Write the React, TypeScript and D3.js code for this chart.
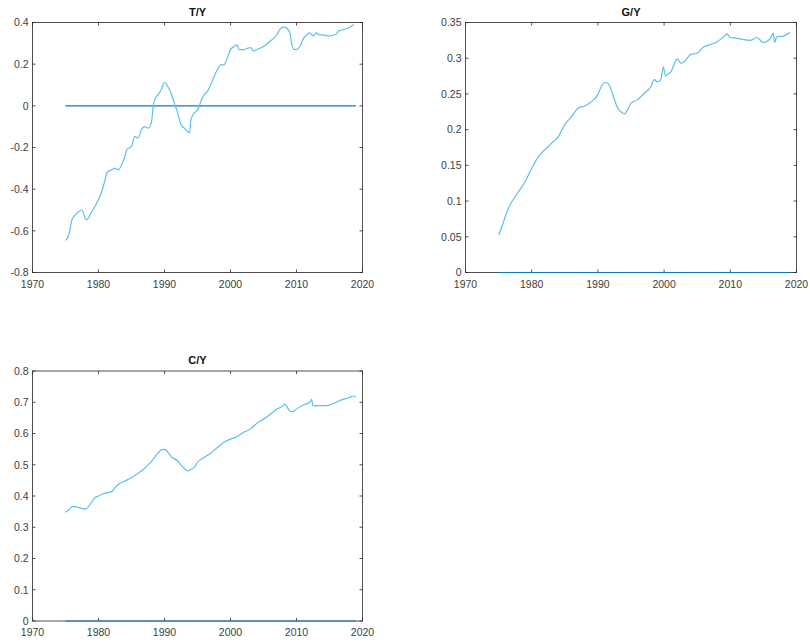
import React from "react";
import * as d3 from "d3";

// ---- Data ----
const tyYears = [1975, 1975.5, 1976, 1976.5, 1977, 1977.5, 1978, 1978.2, 1979, 1980, 1980.5, 1981, 1981.3, 1982, 1982.5, 1983, 1983.5, 1984, 1984.3, 1985, 1985.5, 1986, 1986.5, 1987, 1987.5, 1988, 1988.3, 1988.5, 1989, 1989.5, 1990, 1990.5, 1991, 1991.5, 1992, 1992.5, 1993, 1993.5, 1993.8, 1994, 1994.5, 1995, 1995.5, 1996, 1996.5, 1997, 1997.5, 1998, 1998.5, 1999, 1999.5, 2000, 2000.5, 2001, 2001.3, 2002, 2002.5, 2003, 2003.5, 2004, 2005, 2006, 2007, 2007.5, 2008, 2008.5, 2009, 2009.3, 2009.7, 2010, 2010.5, 2011, 2011.5, 2012, 2012.5, 2013, 2013.5, 2014, 2015, 2016, 2016.5, 2017, 2018, 2018.7];
const tyValues = [-0.646, -0.62, -0.545, -0.523, -0.507, -0.5, -0.54, -0.547, -0.507, -0.45, -0.41, -0.355, -0.32, -0.307, -0.3, -0.307, -0.283, -0.243, -0.21, -0.195, -0.147, -0.155, -0.115, -0.1, -0.107, -0.083, -0.003, 0.03, 0.053, 0.077, 0.112, 0.093, 0.06, 0.013, -0.035, -0.09, -0.107, -0.123, -0.13, -0.067, -0.035, -0.02, 0.02, 0.053, 0.07, 0.1, 0.14, 0.173, 0.197, 0.197, 0.229, 0.27, 0.285, 0.293, 0.27, 0.27, 0.275, 0.28, 0.264, 0.27, 0.285, 0.31, 0.34, 0.368, 0.378, 0.373, 0.35, 0.293, 0.27, 0.27, 0.285, 0.32, 0.34, 0.35, 0.336, 0.35, 0.34, 0.341, 0.336, 0.344, 0.362, 0.365, 0.376, 0.39];

const gyYears = [1975, 1975.5, 1976, 1976.5, 1977, 1978, 1979, 1980, 1981, 1982, 1982.5, 1983, 1984, 1985, 1986, 1987, 1988, 1989, 1990, 1990.5, 1991, 1991.5, 1992, 1992.5, 1993, 1993.5, 1994, 1994.5, 1995, 1996, 1997, 1998, 1998.5, 1999, 1999.5, 1999.9, 2000.2, 2000.5, 2001, 2002, 2002.5, 2003, 2004, 2005, 2006, 2007, 2008, 2009, 2009.5, 2010, 2011, 2012, 2013, 2014, 2015, 2016, 2016.5, 2016.7, 2017, 2018, 2019];
const gyValues = [0.0527, 0.064, 0.078, 0.09, 0.099, 0.113, 0.127, 0.146, 0.162, 0.172, 0.176, 0.181, 0.19, 0.207, 0.218, 0.23, 0.233, 0.239, 0.249, 0.26, 0.266, 0.265, 0.256, 0.242, 0.23, 0.225, 0.222, 0.228, 0.237, 0.242, 0.251, 0.26, 0.27, 0.267, 0.27, 0.288, 0.275, 0.277, 0.281, 0.299, 0.293, 0.295, 0.305, 0.307, 0.316, 0.319, 0.323, 0.33, 0.334, 0.329, 0.328, 0.326, 0.325, 0.329, 0.322, 0.327, 0.335, 0.322, 0.33, 0.331, 0.336];

const cyYears = [1975, 1975.5, 1976, 1976.5, 1977, 1978, 1978.5, 1979, 1979.5, 1980, 1981, 1982, 1982.5, 1983, 1984, 1985, 1986, 1987, 1988, 1989, 1989.5, 1990, 1990.5, 1991, 1992, 1992.5, 1993, 1993.5, 1994, 1994.5, 1995, 1996, 1997, 1998, 1999, 2000, 2001, 2002, 2003, 2004, 2005, 2006, 2007, 2008, 2008.2, 2009, 2009.5, 2010, 2011, 2012, 2012.3, 2012.5, 2013, 2014, 2015, 2016, 2017, 2018, 2018.5, 2019];
const cyValues = [0.348, 0.355, 0.366, 0.366, 0.363, 0.358, 0.366, 0.382, 0.395, 0.4, 0.409, 0.414, 0.427, 0.437, 0.448, 0.459, 0.473, 0.489, 0.51, 0.537, 0.547, 0.549, 0.54, 0.526, 0.512, 0.499, 0.489, 0.48, 0.485, 0.491, 0.508, 0.523, 0.537, 0.555, 0.572, 0.582, 0.59, 0.604, 0.614, 0.633, 0.646, 0.661, 0.678, 0.689, 0.694, 0.672, 0.67, 0.678, 0.691, 0.7, 0.709, 0.688, 0.689, 0.689, 0.691, 0.7, 0.709, 0.715, 0.72, 0.718];

const zeroStart = 1975;
const zeroEnd = 2019;

const xTicks = [1970, 1980, 1990, 2000, 2010, 2020];
const tyTicks = [-0.8, -0.6, -0.4, -0.2, 0, 0.2, 0.4];
const gyTicks = [0, 0.05, 0.1, 0.15, 0.2, 0.25, 0.3, 0.35];
const cyTicks = [0, 0.1, 0.2, 0.3, 0.4, 0.5, 0.6, 0.7, 0.8];

const tyTickLabels = ["-0.8", "-0.6", "-0.4", "-0.2", "0", "0.2", "0.4"];
const gyTickLabels = ["0", "0.05", "0.1", "0.15", "0.2", "0.25", "0.3", "0.35"];
const cyTickLabels = ["0", "0.1", "0.2", "0.3", "0.4", "0.5", "0.6", "0.7", "0.8"];

const SERIES_COLOR = "#5cc0ea";
const ZERO_COLOR = "#0f77bf";
const AXIS_COLOR = "#262626";
const FONT = "'Liberation Sans', Arial, Helvetica, sans-serif";

type PanelProps = {
  x: number;
  y: number;
  w: number;
  h: number;
  title: string;
  years: number[];
  values: number[];
  yDomain: [number, number];
  yTicks: number[];
  yTickLabels: string[];
};

function Panel({ x, y, w, h, title, years, values, yDomain, yTicks, yTickLabels }: PanelProps) {
  const xs = d3.scaleLinear().domain([1970, 2020]).range([0, w]);
  const ys = d3.scaleLinear().domain(yDomain).range([h, 0]);
  const pts = years.map((yr, i) => [yr, values[i]] as [number, number]);
  const line = d3
    .line<[number, number]>()
    .x((d) => xs(d[0]))
    .y((d) => ys(d[1]))
    .curve(d3.curveMonotoneX);
  const zeroLine = d3
    .line<[number, number]>()
    .x((d) => xs(d[0]))
    .y((d) => ys(d[1]));
  const tl = 3;
  return (
    <g transform={`translate(${x},${y})`}>
      <rect x={0} y={0} width={w} height={h} fill="white" />
      <rect x={0} y={0} width={w} height={h} fill="none" stroke={AXIS_COLOR} strokeWidth={0.8} />
      {xTicks.map((t) => (
        <g key={"x" + t}>
          <line x1={xs(t)} x2={xs(t)} y1={h} y2={h - tl} stroke={AXIS_COLOR} strokeWidth={0.8} />
          <line x1={xs(t)} x2={xs(t)} y1={0} y2={tl} stroke={AXIS_COLOR} strokeWidth={0.8} />
          <text x={xs(t)} y={h + 15} textAnchor="middle" fontSize={10.5} fill="#404040" fontFamily={FONT}>
            {t}
          </text>
        </g>
      ))}
      {yTicks.map((t, i) => (
        <g key={"y" + t}>
          <line x1={0} x2={tl} y1={ys(t)} y2={ys(t)} stroke={AXIS_COLOR} strokeWidth={0.8} />
          <line x1={w} x2={w - tl} y1={ys(t)} y2={ys(t)} stroke={AXIS_COLOR} strokeWidth={0.8} />
          <text x={-4} y={ys(t) + 3.8} textAnchor="end" fontSize={10.5} fill="#404040" fontFamily={FONT}>
            {yTickLabels[i]}
          </text>
        </g>
      ))}
      <path d={zeroLine([[zeroStart, 0], [zeroEnd, 0]]) || ""} stroke={ZERO_COLOR} strokeWidth={1.2} fill="none" />
      <path d={line(pts) || ""} stroke={SERIES_COLOR} strokeWidth={1.2} fill="none" strokeLinejoin="round" />
      <text x={w / 2} y={-7} textAnchor="middle" fontSize={11} fontWeight="bold" fill="#111" fontFamily={FONT}>
        {title}
      </text>
    </g>
  );
}

export default function App() {
  return (
    <svg
      width={810}
      height={644}
      style={{ position: "absolute", left: 0, top: 0, background: "white" }}
    >
      <rect x={0} y={0} width={810} height={644} fill="white" />
      <Panel x={32.5} y={22.5} w={330} h={250} title="T/Y" years={tyYears} values={tyValues} yDomain={[-0.8, 0.4]} yTicks={tyTicks} yTickLabels={tyTickLabels} />
      <Panel x={465.5} y={22.5} w={331} h={250} title="G/Y" years={gyYears} values={gyValues} yDomain={[0, 0.35]} yTicks={gyTicks} yTickLabels={gyTickLabels} />
      <Panel x={32.5} y={371} w={330} h={250} title="C/Y" years={cyYears} values={cyValues} yDomain={[0, 0.8]} yTicks={cyTicks} yTickLabels={cyTickLabels} />
    </svg>
  );
}
